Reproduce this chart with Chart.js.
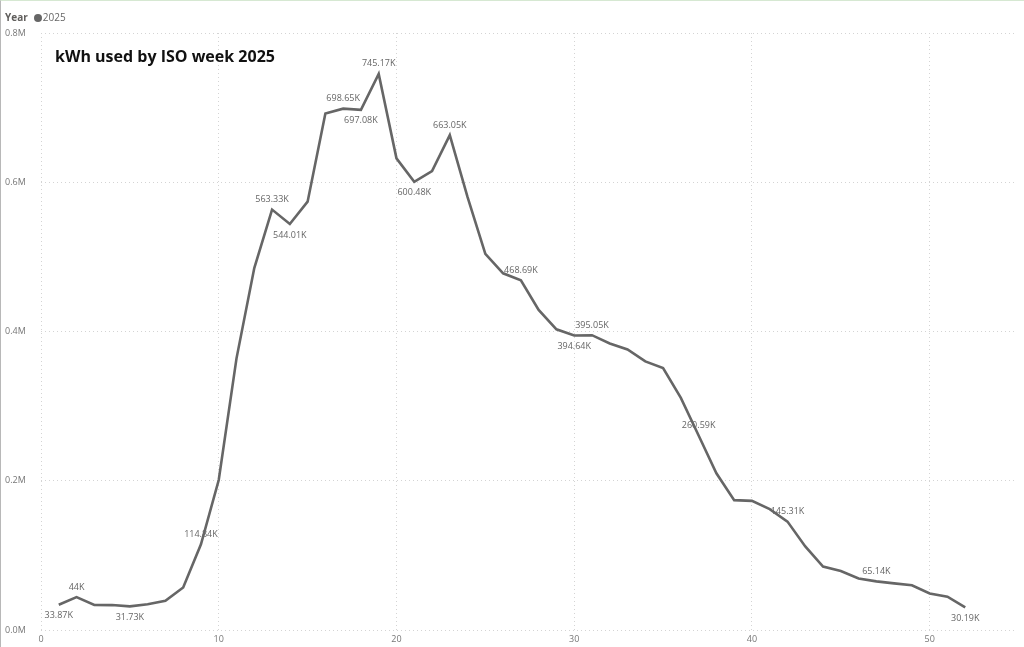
<!DOCTYPE html>
<html>
<head>
<meta charset="utf-8">
<title>kWh used by ISO week 2025</title>
<script src="https://cdn.jsdelivr.net/npm/chart.js@4.4.1/dist/chart.umd.min.js"></script>
<style>
  html, body { margin: 0; padding: 0; background: #fff; }
  body { width: 1024px; height: 647px; overflow: hidden; position: relative; font-family: "Segoe UI", "Open Sans", sans-serif; }
  #frame { position: absolute; left: 0; top: 0; width: 1023px; height: 646px; border-left: 1px solid #b8b8b8; border-top: 1px solid #d6e8d2; }
  #wrap { position: absolute; left: 0; top: 0; width: 1024px; height: 647px; }
  #legend { position: absolute; left: 5px; top: 10px; font-size: 10px; color: #666; line-height: 14px; }
  #legend b { color: #605e5c; margin-right: 6px; }
  #legend .dot { display: inline-block; width: 8px; height: 8px; border-radius: 50%; background: #666; margin-right: 1px; vertical-align: -1px; }
  #title { position: absolute; left: 55px; top: 45px; font-size: 16px; font-weight: bold; color: #111; font-family: "Open Sans", sans-serif; }
</style>
</head>
<body>
<div id="frame"></div>
<div id="wrap"><canvas id="kwhChart" width="1024" height="647"></canvas></div>
<div id="legend"><b>Year</b><span class="dot"></span>2025</div>
<div id="title">kWh used by ISO week 2025</div>
<script>
// ISO weeks and kWh per week
const weeks = Array.from({ length: 52 }, (_, i) => i + 1);
const kwh2025 = [
  33870, 44000, 33500, 33400, 31730, 34500, 39000, 57000, 114840, 201000,
  364000, 485000, 563330, 544010, 574000, 692000, 698650, 697080, 745170, 632000,
  600480, 615000, 663050, 580000, 504000, 478000, 468690, 429000, 403000, 394640,
  395050, 384000, 376000, 360000, 351000, 311000, 260590, 210000, 174000, 173000,
  162000, 145310, 112000, 85000, 79000, 69000, 65140, 62500, 60000, 49000,
  44600, 30190
];
const yTicks = [0, 200000, 400000, 600000, 800000];
const xTicks = [0, 10, 20, 30, 40, 50];
const labelledWeeks = [1, 2, 5, 9, 13, 14, 17, 18, 19, 21, 23, 27, 30, 31, 37, 42, 47, 52];

// which side of the point each data label sits on
const labelBelow = [1, 5, 14, 18, 21, 30, 52];

function fmtK(v) {
  let s = (v / 1000).toFixed(2);
  if (s.endsWith('.00')) s = s.slice(0, -3);
  return s + 'K';
}

// Data labels drawn next to selected points
const dataLabels = {
  id: 'dataLabels',
  afterDatasetsDraw(chart) {
    const ctx = chart.ctx;
    const meta = chart.getDatasetMeta(0);
    ctx.save();
    ctx.font = '9px "Segoe UI", "Open Sans", sans-serif';
    ctx.fillStyle = '#666';
    ctx.textAlign = 'center';
    ctx.textBaseline = 'middle';
    labelledWeeks.forEach(w => {
      const i = weeks.indexOf(w);
      const pt = meta.data[i];
      if (!pt) return;
      const dy = labelBelow.includes(w) ? 11 : -10;
      ctx.fillText(fmtK(kwh2025[i]), pt.x, pt.y + dy);
    });
    ctx.restore();
  }
};

const gridStyle = {
  color: '#d4d4d4',
  lineWidth: 1,
  drawTicks: false
};

new Chart(document.getElementById('kwhChart').getContext('2d'), {
  type: 'line',
  data: {
    datasets: [{
      label: '2025',
      data: weeks.map((w, i) => ({ x: w, y: kwh2025[i] })),
      borderColor: '#666666',
      borderWidth: 2.6,
      pointRadius: 0,
      tension: 0,
      fill: false
    }]
  },
  options: {
    responsive: false,
    animation: false,
    layout: { padding: { left: 5, right: 9, top: 33, bottom: 0 } },
    plugins: {
      legend: { display: false },
      tooltip: { enabled: false }
    },
    scales: {
      x: {
        type: 'linear',
        min: 0,
        max: 54.8,
        afterBuildTicks: s => { s.ticks = xTicks.map(v => ({ value: v })); },
        afterFit: s => { s.height = 17; },
        border: { display: false, dash: [1, 3] },
        grid: gridStyle,
        ticks: {
          color: '#777',
          font: { size: 9, family: '"Segoe UI", "Open Sans", sans-serif' },
          padding: 4,
          maxRotation: 0
        }
      },
      y: {
        min: 0,
        max: 800000,
        afterBuildTicks: s => { s.ticks = yTicks.map(v => ({ value: v })); },
        afterFit: s => { s.width = 36; },
        border: { display: false, dash: [1, 3] },
        grid: gridStyle,
        ticks: {
          color: '#777',
          font: { size: 9, family: '"Segoe UI", "Open Sans", sans-serif' },
          crossAlign: 'far',
          callback: v => (v / 1e6).toFixed(1) + 'M'
        }
      }
    }
  },
  plugins: [dataLabels]
});
</script>
</body>
</html>
